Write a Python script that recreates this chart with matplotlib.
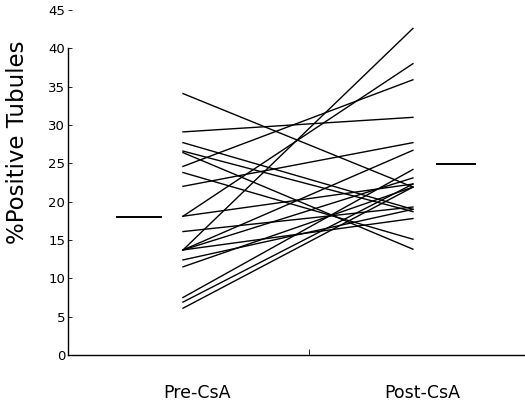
import matplotlib
matplotlib.use("Agg")
import matplotlib.pyplot as plt

# paired values per subject
pre = [34.1, 29.1, 27.7, 26.6, 26.4, 24.6, 23.8, 22.0, 18.1, 18.1,
       16.1, 13.7, 13.7, 13.7, 13.7, 12.4, 11.5, 7.5, 6.9, 6.1]
post = [21.9, 31.0, 19.0, 18.7, 13.8, 35.9, 15.1, 27.7, 38.0, 22.3,
        19.3, 42.6, 26.7, 23.1, 17.8, 19.0, 21.9, 24.2, 22.3, 21.9]
mean_pre = 18.0
mean_post = 24.9
groups = ["Pre-CsA", "Post-CsA"]
yticks = [0, 5, 10, 15, 20, 25, 30, 35, 40, 45]

plt.rcParams["font.family"] = ["DejaVu Sans"]
fig = plt.figure(figsize=(5.25, 4.03), dpi=100)
ax = fig.add_axes([68 / 525, 48 / 403, 457 / 525, 345 / 403])

for a, b in zip(pre, post):
    ax.plot([0.938, 1.96], [a, b], color="black", lw=1.0)

ax.plot([0.644, 0.84], [mean_pre, mean_pre], color="black", lw=1.4)
ax.plot([2.067, 2.236], [mean_post, mean_post], color="black", lw=1.4)

ax.set_xlim(0.427, 2.458)
ax.set_ylim(0, 45)
ax.spines["top"].set_visible(False)
ax.spines["right"].set_visible(False)
ax.spines["left"].set_bounds(0, 40)
ax.spines["left"].set_linewidth(1.0)
ax.spines["bottom"].set_linewidth(1.0)

ax.set_yticks(yticks)
ax.tick_params(axis="y", direction="in", length=3, width=0.6, pad=2, labelsize=9.5)
ax.set_xticks([1, 2])
ax.set_xticklabels(groups)
ax.tick_params(axis="x", length=0, pad=21, labelsize=12.5)
ax.set_xticks([1.5], minor=True)
ax.tick_params(axis="x", which="minor", direction="in", length=4, width=0.6)

ax.set_ylabel("%Positive Tubules", fontsize=16.5)
ax.yaxis.set_label_coords(-0.085, 0.617)

fig.savefig("out.png", dpi=100)
